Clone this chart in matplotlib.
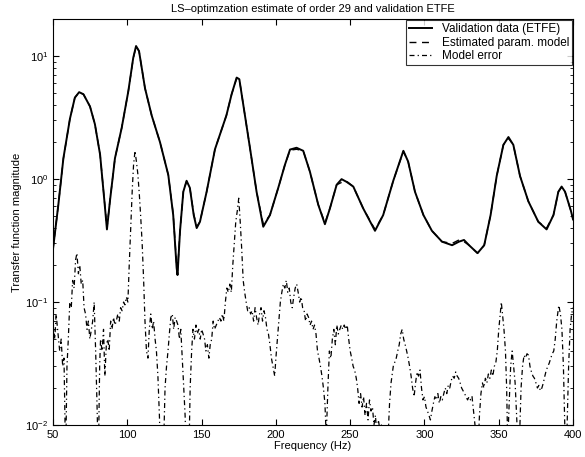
import matplotlib
matplotlib.use("Agg")
import matplotlib.pyplot as plt
from matplotlib.ticker import LogLocator, NullFormatter

plt.rcParams['font.family'] = ['Liberation Sans', 'DejaVu Sans']
plt.rcParams['mathtext.default'] = 'regular'

# validation data (ETFE)
freq_v = [50, 53.6, 57.0, 61.4, 64.7, 67.6, 70.5, 74.9, 78.2, 81.7, 84.6, 86.3, 88.3, 91.7, 96.2,
          100.7, 104.0, 105.9, 107.9, 111.9, 116.4, 122.0, 127.6, 130.9, 133.2, 133.8, 135.5,
          137.7, 139.9, 142.1, 144.7, 146.7, 148.9, 153.4, 159.0, 166.7, 170.2, 173.6, 175.4, 178.1,
          182.6, 187.0, 191.5, 196.0, 201.6, 206.1, 209.5, 213.9, 218.4, 222.9, 228.5,
          233.0, 236.4, 240.9, 244.2, 247.6, 252.1, 258.7, 266.7, 272.2, 279.0, 285.8, 289.0,
          293.6, 299.3, 305.0, 311.8, 318.6, 323.2, 326.6, 330.0, 335.7, 340.2, 344.5, 348.6,
          353.1, 356.5, 359.8, 364.3, 369.9, 376.6, 382.2, 386.8, 390.1, 392.3, 394.6, 398.6, 400]
val_v = [0.27, 0.62, 1.48, 3.1, 4.6, 5.1, 4.9, 3.9, 2.8, 1.58, 0.66, 0.39, 0.66, 1.48, 2.6,
         5.2, 9.7, 12.1, 11.0, 5.5, 3.3, 2.0, 1.08, 0.51, 0.19, 0.166, 0.38,
         0.79, 0.97, 0.85, 0.51, 0.40, 0.45, 0.79, 1.75, 3.3, 4.9, 6.7, 6.5, 4.0,
         1.78, 0.79, 0.41, 0.51, 0.85, 1.31, 1.74, 1.8, 1.7, 1.15, 0.62,
         0.43, 0.58, 0.9, 1.0, 0.95, 0.87, 0.58, 0.38, 0.51, 0.97, 1.7, 1.39,
         0.79, 0.51, 0.38, 0.31, 0.29, 0.31, 0.32, 0.29, 0.25, 0.29, 0.51, 1.06,
         1.9, 2.2, 1.9, 1.06, 0.66, 0.45, 0.39, 0.51, 0.79, 0.87, 0.79, 0.55, 0.47]

# estimated parametric model (same frequency grid)
val_m = [0.27, 0.62, 1.47, 3.1, 4.6, 5.1, 4.9, 3.9, 2.8, 1.58, 0.67, 0.40, 0.66, 1.48, 2.6,
         5.2, 9.6, 12.0, 11.0, 5.5, 3.3, 2.0, 1.08, 0.52, 0.20, 0.18, 0.38,
         0.79, 0.96, 0.85, 0.52, 0.41, 0.45, 0.79, 1.75, 3.3, 4.9, 6.6, 6.5, 4.0,
         1.78, 0.79, 0.43, 0.51, 0.85, 1.31, 1.72, 1.75, 1.7, 1.15, 0.62,
         0.44, 0.58, 0.9, 0.94, 0.96, 0.87, 0.58, 0.39, 0.51, 0.97, 1.68, 1.39,
         0.79, 0.51, 0.38, 0.31, 0.30, 0.32, 0.31, 0.29, 0.25, 0.29, 0.51, 1.06,
         1.9, 2.15, 1.9, 1.06, 0.66, 0.45, 0.40, 0.51, 0.79, 0.86, 0.79, 0.55, 0.47]

# model error
freq_e = [50, 51.2, 52.1, 53.1, 54.5, 55.5, 56.5, 57.4, 58.5, 59.4,
          60.3, 61.3, 62.3, 63.2, 64.2, 65.2, 66.1, 67.1, 68.0, 69.0,
          70.0, 70.9, 71.9, 72.9, 73.8, 74.8, 75.8, 76.7, 77.7, 78.7,
          79.6, 80.5, 81.4, 82.0, 83.0, 84.0, 84.9, 85.9, 86.9, 87.8,
          88.8, 89.7, 90.7, 91.7, 92.6, 93.6, 94.6, 95.5, 96.5, 97.5,
          98.4, 99.4, 100.4, 101.3, 102.3, 103.3, 104.2, 105.2, 106.1, 107.1,
          108.1, 109.0, 110.0, 111.0, 111.9, 112.9, 113.9, 114.8, 115.8, 116.8,
          117.7, 118.7, 119.6, 120.6, 121.6, 122.5, 124.2, 125.4, 126.4, 127.4,
          128.3, 129.3, 130.3, 131.2, 132.2, 133.2, 134.1, 135.1, 136.0, 137.0,
          138.0, 138.9, 139.9, 141.4, 142.3, 143.3, 144.2, 145.2, 146.2, 147.1,
          148.1, 149.1, 150.0, 151.0, 152.0, 152.9, 153.9, 154.9, 155.8, 156.8,
          157.8, 158.7,
          162, 163, 164, 165, 166, 167, 168, 169, 170, 171,
          172, 173, 174, 175, 176, 177, 178, 179, 180, 181,
          182, 183, 184, 185, 186, 187, 188, 189, 190, 191,
          192, 193, 194, 195, 196, 197, 198, 199.2,
          200, 201, 202, 203, 204, 205, 206, 207, 208, 209,
          210, 211, 212, 213, 214, 215, 216, 217, 218, 219,
          220, 221, 222, 223, 224, 225, 226, 227, 228, 229,
          230, 231, 232, 233, 233.9,
          235, 236, 237, 238, 239, 240, 241, 242, 243, 244,
          245, 246, 247, 248, 249, 250, 251, 252, 253, 254.1,
          255, 256, 257, 258, 259, 260, 261, 262, 263, 264,
          265, 266, 267, 268, 269, 270, 271, 272, 273,
          274.5, 275.5, 276.5, 277.5, 279,
          281, 282, 283, 284, 285, 286, 287, 288, 289, 290,
          291, 292, 293, 294, 295, 296, 297, 298, 299, 300,
          301, 302, 303, 304, 305, 306, 307, 308, 309, 310,
          311, 312, 313, 314, 315, 316, 317, 318, 319, 320,
          321, 322, 323, 324, 325, 326, 327, 328, 329, 330,
          331, 332, 333, 334, 335.7,
          337, 338, 339, 340, 341, 342, 343, 344,
          345, 346, 347, 348, 349, 350, 351,
          351.7, 352.5, 353.5, 354.5, 355.3,
          356, 357, 358, 359, 360, 361, 362, 363, 364, 365,
          366, 367, 368, 369, 370, 371, 372, 373, 374, 375,
          376, 377, 378, 379, 380, 381, 382, 383, 384, 385,
          386, 387, 388, 389,
          390.4, 391.5, 392.5, 393.5, 394.3,
          395, 396, 397, 398, 399, 400]
val_e = [0.07, 0.05, 0.08, 0.06, 0.04, 0.05, 0.03, 0.035, 0.005, 0.03,
         0.05, 0.1, 0.09, 0.15, 0.13, 0.22, 0.25, 0.17, 0.2, 0.14,
         0.15, 0.09, 0.08, 0.06, 0.07, 0.05, 0.06, 0.07, 0.1, 0.04,
         0.015, 0.005, 0.03, 0.05, 0.04, 0.06, 0.025, 0.045, 0.05, 0.04,
         0.07, 0.06, 0.075, 0.065, 0.07, 0.08, 0.07, 0.09, 0.085, 0.1,
         0.095, 0.11, 0.1, 0.2, 0.4, 0.8, 1.3, 1.7, 1.4, 1.1,
         0.75, 0.5, 0.3, 0.15, 0.07, 0.04, 0.035, 0.06, 0.08, 0.06,
         0.07, 0.05, 0.04, 0.025, 0.012, 0.005, 0.005, 0.02, 0.03, 0.04,
         0.055, 0.075, 0.08, 0.06, 0.075, 0.07, 0.065, 0.05, 0.06, 0.035,
         0.02, 0.012, 0.005, 0.005, 0.02, 0.04, 0.06, 0.05, 0.065, 0.055,
         0.06, 0.05, 0.06, 0.055, 0.05, 0.04, 0.045, 0.035, 0.045, 0.05,
         0.07, 0.06,
         0.075, 0.07, 0.08, 0.07, 0.1, 0.13, 0.12, 0.14, 0.12, 0.2,
         0.3, 0.45, 0.55, 0.7, 0.45, 0.27, 0.15, 0.12, 0.1, 0.085,
         0.09, 0.08, 0.085, 0.07, 0.09, 0.075, 0.065, 0.08, 0.09, 0.07,
         0.085, 0.075, 0.06, 0.055, 0.045, 0.035, 0.03, 0.025,
         0.035, 0.05, 0.07, 0.1, 0.12, 0.14, 0.13, 0.15, 0.12, 0.13,
         0.1, 0.09, 0.11, 0.13, 0.14, 0.12, 0.1, 0.11, 0.09, 0.085,
         0.07, 0.08, 0.075, 0.065, 0.07, 0.06, 0.065, 0.055, 0.04, 0.035,
         0.03, 0.025, 0.02, 0.015, 0.008,
         0.02, 0.04, 0.035, 0.05, 0.06, 0.045, 0.065, 0.055, 0.06, 0.065,
         0.06, 0.065, 0.06, 0.065, 0.05, 0.04, 0.035, 0.03, 0.028, 0.024,
         0.02, 0.015, 0.018, 0.014, 0.017, 0.012, 0.015, 0.011, 0.016, 0.013,
         0.014, 0.01, 0.012, 0.008, 0.011, 0.009, 0.01, 0.007, 0.005,
         0.005, 0.008, 0.015, 0.022, 0.03,
         0.035, 0.04, 0.045, 0.055, 0.06, 0.05, 0.045, 0.04, 0.035, 0.03,
         0.025, 0.02, 0.017, 0.022, 0.027, 0.025, 0.028, 0.02, 0.016, 0.017,
         0.014, 0.013, 0.012, 0.011, 0.013, 0.015, 0.017, 0.016, 0.018, 0.015,
         0.017, 0.016, 0.018, 0.02, 0.018, 0.021, 0.02, 0.023, 0.025, 0.024,
         0.027, 0.025, 0.024, 0.022, 0.02, 0.019, 0.018, 0.017, 0.016, 0.017,
         0.016, 0.017, 0.013, 0.01, 0.005,
         0.012, 0.018, 0.022, 0.02, 0.024, 0.022, 0.026, 0.024,
         0.028, 0.025, 0.03, 0.032, 0.04, 0.06, 0.08,
         0.1, 0.08, 0.06, 0.04, 0.02,
         0.007, 0.015, 0.03, 0.04, 0.03, 0.022, 0.012, 0.006, 0.008, 0.02,
         0.03, 0.037, 0.035, 0.038, 0.037, 0.03, 0.027, 0.025, 0.024, 0.022,
         0.02, 0.021, 0.019, 0.02, 0.022, 0.025, 0.028, 0.03, 0.032, 0.035,
         0.038, 0.04, 0.05, 0.07,
         0.094, 0.08, 0.06, 0.03, 0.012,
         0.005, 0.01, 0.03, 0.06, 0.08, 0.09]

fig = plt.figure(figsize=(5.85, 4.57), dpi=100)
ax = fig.add_axes([0.0906, 0.070, 0.889, 0.888])

ax.semilogy(freq_v, val_v, color='black', lw=1.4, label='Validation data (ETFE)')
ax.semilogy(freq_v, val_m, color='black', lw=1.0, ls=(0, (5, 4)), label='Estimated param. model')
ax.semilogy(freq_e, val_e, color='black', lw=0.9, ls=(0, (4, 2.5, 1, 2.5)), label='Model error')

ax.set_xlim(50, 400)
ax.set_ylim(1e-2, 20)
ax.set_xticks([50, 100, 150, 200, 250, 300, 350, 400])
ax.yaxis.set_major_locator(LogLocator(base=10, numticks=10))
ax.yaxis.set_minor_locator(LogLocator(base=10, subs=range(2, 10), numticks=20))
ax.yaxis.set_minor_formatter(NullFormatter())
ax.tick_params(which='both', direction='in', top=True, right=True, labelsize=8)
ax.tick_params(which='major', length=4)
ax.tick_params(which='minor', length=2)

ax.set_title('LS\u2013optimzation estimate of order 29 and validation ETFE', fontsize=8, pad=5)
ax.set_xlabel('Frequency (Hz)', fontsize=8, labelpad=1)
ax.set_ylabel('Transfer function magnitude', fontsize=8, labelpad=2)

leg = ax.legend(loc='upper right', fontsize=8.5, frameon=True, fancybox=False,
                edgecolor='black', borderaxespad=0.1, handlelength=2.0,
                labelspacing=0.12, borderpad=0.25)
leg.get_frame().set_linewidth(0.8)

fig.savefig('out.png', dpi=100)
